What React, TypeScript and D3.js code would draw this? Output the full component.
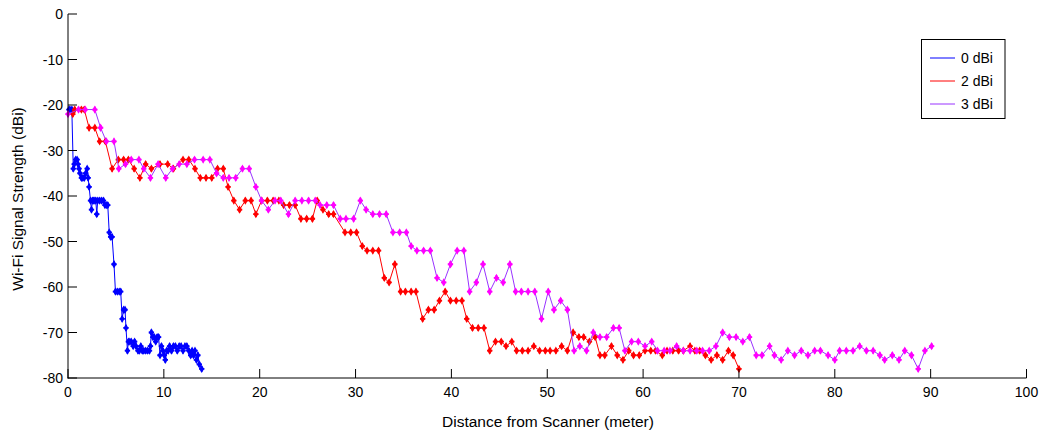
import React from "react";
import * as d3 from "d3";

// distance (m) / signal (dBi) readings for each antenna
const blueDist = [0.1, 0.2, 0.4, 0.55, 0.65, 0.8, 0.95, 1.05, 1.15, 1.25, 1.4, 1.55, 1.7, 1.85, 2.0, 2.1, 2.2, 2.35, 2.45, 2.55, 2.65, 2.8, 2.9, 3.0, 3.1, 3.3, 3.5, 3.7, 3.85, 4.0, 4.15, 4.3, 4.45, 4.6, 4.8, 4.95, 5.15, 5.35, 5.5, 5.65, 5.8, 5.95, 6.05, 6.2, 6.3, 6.45, 6.6, 6.8, 6.95, 7.1, 7.3, 7.45, 7.6, 7.75, 7.9, 8.1, 8.3, 8.5, 8.6, 8.7, 8.85, 9.0, 9.15, 9.3, 9.45, 9.6, 9.75, 9.9, 10.05, 10.15, 10.3, 10.45, 10.6, 10.8, 11.0, 11.2, 11.4, 11.6, 11.8, 12.0, 12.2, 12.4, 12.6, 12.8, 12.95, 13.1, 13.25, 13.4, 13.55, 13.7, 13.95];
const blueSig = [-21, -21, -21, -34, -33, -32, -32, -33, -34, -35, -36, -36, -36, -35, -34, -36, -38, -41, -43, -41, -41, -41, -41, -44, -41, -41, -41, -41, -42, -42, -42, -48, -49, -49, -55, -61, -61, -61, -61, -67, -65, -65, -69, -74, -72, -72, -72, -73, -72, -73, -74, -74, -73, -74, -74, -74, -74, -74, -73, -70, -71, -71, -72, -71, -71, -75, -73, -74, -75, -76, -74, -74, -73, -74, -73, -73, -74, -73, -73, -74, -73, -73, -74, -75, -74, -75, -74, -76, -75, -77, -78];

const redDist = [0.5, 0.7, 1.4, 1.7, 2.2, 2.8, 3.3, 3.9, 4.6, 5.25, 5.8, 6.3, 6.9, 7.5, 8.1, 8.7, 9.6, 10.4, 11.0, 12.0, 12.6, 13.25, 13.8, 14.4, 15.0, 15.6, 16.2, 16.7, 17.3, 17.9, 18.5, 19.1, 19.6, 20.2, 20.8, 21.4, 22.0, 22.5, 23.1, 23.7, 24.3, 24.9, 25.5, 26.0, 26.6, 27.2, 27.7, 28.9, 29.5, 30.1, 30.7, 31.2, 31.8, 32.4, 33.0, 33.5, 34.1, 34.7, 35.2, 35.8, 36.3, 37.0, 37.6, 38.2, 38.75, 39.35, 39.9, 40.5, 41.1, 41.6, 42.2, 42.8, 43.4, 44.0, 44.6, 45.2, 45.7, 46.3, 46.8, 47.4, 48.0, 48.6, 49.2, 49.8, 50.3, 50.9, 51.5, 52.1, 52.7, 53.3, 53.8, 54.4, 55.0, 55.5, 56.0, 56.7, 57.3, 57.9, 58.5, 59.0, 59.6, 60.2, 60.8, 61.3, 62.0, 62.5, 63.1, 63.7, 64.2, 64.9, 65.4, 65.9, 66.5, 67.1, 67.7, 68.3, 68.9, 69.4, 70.0];
const redSig = [-22, -21, -21, -21, -25, -25, -28, -28, -34, -32, -32, -32, -34, -36, -33, -34, -33, -33, -34, -32, -32, -34, -36, -36, -36, -34, -34, -38, -41, -43, -41, -41, -44, -41, -41, -41, -41, -42, -42, -42, -45, -45, -45, -41, -43, -44, -44, -48, -48, -48, -51, -52, -52, -52, -58, -59, -55, -61, -61, -61, -61, -67, -65, -65, -63, -61, -63, -63, -63, -67, -69, -69, -69, -74, -72, -72, -73, -72, -74, -74, -74, -73, -74, -74, -74, -74, -73, -74, -70, -71, -71, -72, -71, -75, -75, -73, -75, -76, -74, -75, -75, -74, -74, -74, -75, -74, -74, -74, -74, -73, -74, -74, -75, -76, -75, -76, -74, -75, -78];

const magDist = [0.0, 1.1, 1.8, 2.8, 3.4, 4.0, 4.8, 5.3, 6.0, 6.6, 7.4, 7.9, 8.6, 9.4, 10.2, 10.9, 11.6, 12.4, 13.2, 14.1, 14.8, 15.5, 16.2, 16.8, 17.5, 18.2, 18.9, 19.6, 20.2, 20.9, 21.6, 22.2, 23.0, 23.7, 24.4, 25.1, 25.8, 26.3, 27.0, 27.7, 28.4, 29.0, 29.8, 30.5, 31.1, 31.8, 32.5, 33.2, 33.9, 34.6, 35.3, 35.8, 36.4, 37.1, 37.8, 38.5, 39.2, 39.9, 40.6, 41.3, 41.9, 42.6, 43.3, 44.0, 44.7, 45.4, 46.1, 46.7, 47.3, 48.0, 48.7, 49.4, 50.1, 50.7, 51.4, 52.1, 52.8, 53.4, 54.1, 54.8, 55.5, 56.2, 56.9, 57.5, 58.1, 58.8, 59.5, 60.2, 60.9, 61.5, 62.2, 62.8, 63.5, 64.2, 64.9, 65.6, 66.2, 66.9, 67.6, 68.3, 69.0, 69.7, 70.4, 71.1, 71.8, 72.4, 73.2, 73.7, 74.4, 75.1, 75.8, 76.5, 77.2, 77.9, 78.5, 79.3, 80.0, 80.5, 81.2, 81.9, 82.6, 83.3, 84.0, 84.7, 85.2, 86.0, 86.7, 87.3, 88.0, 88.7, 89.4, 90.1];
const magSig = [-22, -21, -21, -21, -25, -28, -28, -34, -33, -32, -32, -34, -36, -33, -36, -34, -33, -33, -32, -32, -32, -35, -36, -36, -36, -34, -34, -38, -41, -43, -41, -41, -44, -41, -41, -41, -41, -42, -42, -42, -45, -45, -45, -41, -43, -44, -44, -44, -48, -48, -48, -51, -52, -52, -52, -58, -59, -55, -52, -52, -61, -59, -55, -61, -58, -59, -55, -61, -61, -61, -61, -67, -61, -65, -63, -65, -74, -73, -74, -70, -71, -71, -69, -69, -74, -72, -72, -73, -72, -74, -74, -74, -73, -74, -74, -74, -74, -74, -73, -70, -71, -71, -72, -71, -75, -75, -73, -75, -76, -74, -75, -74, -75, -74, -74, -75, -76, -74, -74, -74, -73, -74, -74, -75, -76, -75, -76, -74, -75, -78, -74, -73];

const xTicks = [0, 10, 20, 30, 40, 50, 60, 70, 80, 90, 100];
const yTicks = [0, -10, -20, -30, -40, -50, -60, -70, -80];

const series = [
  { name: "0 dBi", dist: blueDist, sig: blueSig, line: "#0000ff", mark: "#0000ff" },
  { name: "2 dBi", dist: redDist, sig: redSig, line: "#ff0000", mark: "#ff0000" },
  { name: "3 dBi", dist: magDist, sig: magSig, line: "#9933ff", mark: "#ff00ff" },
];

const W = 1042;
const H = 434;
const font = "Arial, 'Liberation Sans', sans-serif";

export default function App() {
  const x = d3.scaleLinear().domain([0, 100]).range([68, 1026.5]);
  const y = d3.scaleLinear().domain([-80, 0]).range([378, 14]);
  const diamond = d3.symbol().type(d3.symbolDiamond).size(20)();
  const cross = d3.symbol().type(d3.symbolCross).size(16)();

  return (
    <div style={{ position: "absolute", left: 0, top: 0 }}>
      <svg width={W} height={H} style={{ display: "block", background: "#fff" }} fontFamily={font}>
        {series.map((s) => {
          const pts = s.dist.map((d, i) => [d, s.sig[i]] as [number, number]);
          const line = d3.line().x((p) => x(p[0])).y((p) => y(p[1]));
          return (
            <g key={s.name}>
              <path d={line(pts) || ""} fill="none" stroke={s.line} strokeWidth={1} />
              {pts.map((p, i) => (
                <g key={i} transform={`translate(${x(p[0])},${y(p[1])})`} fill={s.mark}>
                  <path d={diamond} />
                  <path d={cross} />
                </g>
              ))}
            </g>
          );
        })}

        {/* axes */}
        <g stroke="#000" strokeWidth={1} fill="none">
          <line x1={68} x2={68} y1={14} y2={378.5} />
          <line x1={67.5} x2={1026.5} y1={378} y2={378} />
          {xTicks.map((t) => (
            <line key={t} x1={x(t)} x2={x(t)} y1={378} y2={369} />
          ))}
          {yTicks.map((t) => (
            <line key={t} x1={68} x2={77} y1={y(t)} y2={y(t)} />
          ))}
        </g>
        <g fontSize={14} fill="#000">
          {xTicks.map((t) => (
            <text key={t} x={x(t)} y={397} textAnchor="middle">{t}</text>
          ))}
          {yTicks.map((t) => (
            <text key={t} x={63} y={y(t) + 5} textAnchor="end">{t}</text>
          ))}
        </g>
        <g fontSize={15.5} fill="#000">
          <text x={548} y={427} textAnchor="middle">Distance from Scanner (meter)</text>
          <text transform="translate(23,199) rotate(-90)" textAnchor="middle">Wi-Fi Signal Strength (dBi)</text>
        </g>

        {/* legend */}
        <rect x={921.5} y={39.5} width={83.5} height={79} fill="#fff" stroke="#000" />
        {series.map((s, i) => (
          <g key={s.name} transform={`translate(0,${58 + i * 23})`}>
            <line x1={930} x2={955} y1={0} y2={0} stroke={s.line} />
            <text x={961} y={5} fontSize={14}>{s.name}</text>
          </g>
        ))}
      </svg>
    </div>
  );
}
